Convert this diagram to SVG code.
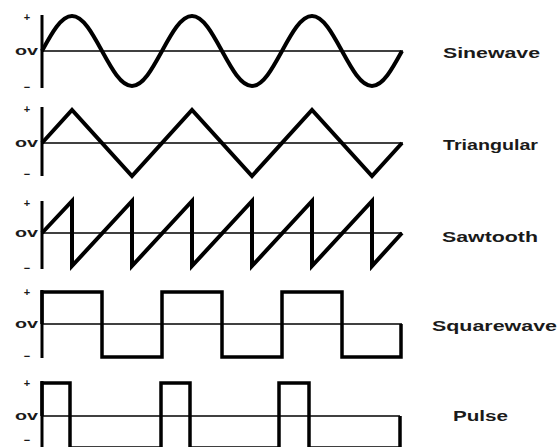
<svg xmlns="http://www.w3.org/2000/svg" width="558" height="447" viewBox="0 0 558 447">
<style>
.wave{fill:none;stroke:#000;stroke-width:4;stroke-linejoin:miter;stroke-miterlimit:10}
.sq{fill:none;stroke:#000;stroke-width:3.5;stroke-linejoin:miter}
.zero{stroke:#000;stroke-width:1.7}
.axis{stroke:#000;stroke-width:3}
.lbl{font-family:"Liberation Sans",Arial,sans-serif;font-weight:bold;font-size:14px;fill:#1a1a1a}
.ov{font-family:"Liberation Sans",Arial,sans-serif;font-weight:bold;font-size:12px;fill:#1a1a1a}
.pm{font-family:"Liberation Sans",Arial,sans-serif;font-weight:bold;font-size:11px;fill:#1a1a1a;text-anchor:middle}
</style>
<rect width="558" height="447" fill="#fff"/>

<g id="sinewave">
  <line class="zero" x1="42" y1="51" x2="403" y2="51"/>
  <line class="axis" x1="42" y1="15" x2="42" y2="88"/>
  <path class="wave" d="M42,51 c9.784,-17.93 19.144,-35 30,-35 s20.216,17.07 30,35 s19.144,35 30,35 s20.216,-17.07 30,-35 s19.144,-35 30,-35 s20.216,17.07 30,35 s19.144,35 30,35 s20.216,-17.07 30,-35 s19.144,-35 30,-35 s20.216,17.07 30,35 s19.144,35 30,35 s20.216,-17.07 30,-35"/>
  <text class="pm" x="27" y="21">+</text>
  <text class="ov" x="15" y="55" textLength="23" lengthAdjust="spacingAndGlyphs">ov</text>
  <text class="pm" x="27" y="91">−</text>
  <text class="lbl" x="443" y="58" textLength="97" lengthAdjust="spacingAndGlyphs">Sinewave</text>
</g>

<g id="triangular">
  <line class="zero" x1="42" y1="143" x2="403" y2="143"/>
  <line class="axis" x1="42" y1="107" x2="42" y2="176"/>
  <path class="wave" d="M42,143 L72,110 L132,176 L192,110 L252,176 L312,110 L372,176 L402,143"/>
  <text class="pm" x="27" y="113">+</text>
  <text class="ov" x="15" y="147" textLength="23" lengthAdjust="spacingAndGlyphs">ov</text>
  <text class="pm" x="27" y="178">−</text>
  <text class="lbl" x="443" y="150" textLength="95" lengthAdjust="spacingAndGlyphs">Triangular</text>
</g>

<g id="sawtooth">
  <line class="zero" x1="42" y1="233" x2="402" y2="233"/>
  <line class="axis" x1="42" y1="201" x2="42" y2="269"/>
  <path class="wave" d="M42,233 L72,201 L72,266 L132,201 L132,266 L192,201 L192,266 L252,201 L252,266 L312,201 L312,266 L372,201 L372,266 L402,233"/>
  <text class="pm" x="27" y="207">+</text>
  <text class="ov" x="15" y="237" textLength="23" lengthAdjust="spacingAndGlyphs">ov</text>
  <text class="pm" x="27" y="272">−</text>
  <text class="lbl" x="442" y="242" textLength="96" lengthAdjust="spacingAndGlyphs">Sawtooth</text>
</g>

<g id="squarewave">
  <line class="zero" x1="42" y1="324" x2="402" y2="324"/>
  <line class="axis" x1="42" y1="290" x2="42" y2="358"/>
  <path class="sq" d="M42,324 L42,292 L102,292 L102,357 L162,357 L162,292 L222,292 L222,357 L282,357 L282,292 L342,292 L342,357 L401,357 L401,324"/>
  <text class="pm" x="27" y="296">+</text>
  <text class="ov" x="15" y="328" textLength="23" lengthAdjust="spacingAndGlyphs">ov</text>
  <text class="pm" x="27" y="360">−</text>
  <text class="lbl" x="432" y="331" textLength="125" lengthAdjust="spacingAndGlyphs">Squarewave</text>
</g>

<g id="pulse">
  <line class="zero" x1="42" y1="416" x2="400" y2="416"/>
  <line class="axis" x1="42" y1="381" x2="42" y2="447"/>
  <path class="sq" d="M42,416 L42,383 L70,383 L70,448 L161,448 L161,383 L190,383 L190,448 L279,448 L279,383 L309,383 L309,448 L400,448 L400,416"/>
  <text class="pm" x="27" y="387">+</text>
  <text class="ov" x="15" y="420" textLength="23" lengthAdjust="spacingAndGlyphs">ov</text>
  <text class="pm" x="27" y="444">−</text>
  <text class="lbl" x="453" y="421" textLength="55" lengthAdjust="spacingAndGlyphs">Pulse</text>
</g>
</svg>
